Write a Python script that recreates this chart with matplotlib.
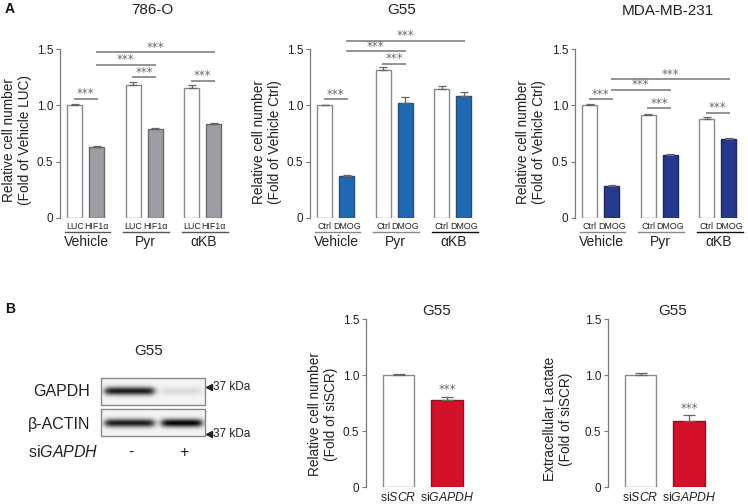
import numpy as np
import matplotlib
matplotlib.use('Agg')
import matplotlib.pyplot as plt
from matplotlib.patches import Rectangle

plt.rcParams['font.family'] = ['Liberation Sans', 'DejaVu Sans']
plt.rcParams['mathtext.fontset'] = 'custom'
plt.rcParams['mathtext.rm'] = 'Liberation Sans'
plt.rcParams['mathtext.it'] = 'Liberation Sans:italic'

# ---------------- data ----------------
groups = ['Vehicle', 'Pyr', 'αKB']
rcc_conditions = ['LUC', 'HIF1α']
dmog_conditions = ['Ctrl', 'DMOG']

rcc_values = [1.00, 0.63, 1.18, 0.79, 1.15, 0.83]
rcc_errors = [0.01, 0.012, 0.03, 0.012, 0.03, 0.015]
g55_values = [1.00, 0.37, 1.31, 1.02, 1.145, 1.085]
g55_errors = [0.006, 0.015, 0.03, 0.05, 0.03, 0.03]
mda_values = [1.00, 0.28, 0.915, 0.56, 0.88, 0.70]
mda_errors = [0.015, 0.01, 0.012, 0.008, 0.015, 0.01]

# significance brackets: (bar i, bar j, height)
rcc_sig = [(0, 1, 1.06), (2, 3, 1.25), (1, 3, 1.36), (1, 5, 1.47), (4, 5, 1.22)]
g55_sig = [(0, 1, 1.055), (2, 3, 1.37), (1, 3, 1.48), (1, 5, 1.575)]
mda_sig = [(0, 1, 1.055), (1, 3, 1.14), (1, 5, 1.23), (2, 3, 0.975), (4, 5, 0.935)]

si_labels = ['si$\\it{SCR}$', 'si$\\it{GAPDH}$']
cell_values = [1.00, 0.78]
cell_errors = [0.012, 0.025]
lactate_values = [1.00, 0.585]
lactate_errors = [0.015, 0.06]

blot_rows = ['GAPDH', 'β-ACTIN']
blot_lanes = ['-', '+']
gapdh_band = [0.85, 0.10]
actin_band = [0.85, 0.95]

# ---------------- figure ----------------
W, H = 748, 504
fig = plt.figure(figsize=(W / 100, H / 100), dpi=100)
ov = fig.add_axes([0, 0, 1, 1])
ov.set_xlim(0, W)
ov.set_ylim(H, 0)
ov.axis('off')

TXT = '#222222'
STAR = dict(fontsize=8.5, color='#6a6a6a', family='DejaVu Sans')


def px_axes(x0, x1, ytop, ybot):
    return fig.add_axes([x0 / W, 1 - ybot / H, (x1 - x0) / W, (ybot - ytop) / H])


def style(ax):
    for s in ['top', 'right', 'bottom']:
        ax.spines[s].set_visible(False)
    ax.spines['left'].set_color('#7a7a7a')
    ax.spines['left'].set_linewidth(0.9)
    ax.set_ylim(0, 1.5)
    ax.set_yticks([0, 0.5, 1.0, 1.5])
    ax.set_yticklabels(['0', '0.5', '1.0', '1.5'])
    ax.tick_params(axis='y', length=3, width=0.8, color='#7a7a7a', labelsize=8.5,
                   labelcolor=TXT, pad=2)
    ax.set_xticks([])
    ax.patch.set_alpha(0)


pos = [0, 1, 2.65, 3.65, 5.32, 6.32]
bw = 0.68


def top_panel(x0, values, errors, conds, fill, edge, sig, ul_color):
    ax = px_axes(x0, x0 + 168, 49, 218)
    style(ax)
    ax.set_xlim(-0.67, 6.96)
    fcs = ['white', fill] * 3
    ecs = ['#8a8a8a', edge] * 3
    ax.bar(pos, values, width=bw, color=fcs, edgecolor=ecs, linewidth=1.0, zorder=2)
    ax.errorbar(pos, values, yerr=[np.zeros(6), errors], fmt='none', ecolor='#666666',
                elinewidth=0.9, capsize=3, capthick=0.9, zorder=3)
    for (i, j, h) in sig:
        ax.plot([pos[i] - 0.05, pos[j] + 0.05], [h, h], color='#808080', lw=1.2,
                clip_on=False, solid_capstyle='butt')
        ax.text((pos[i] + pos[j]) / 2, h + 0.045, '***', ha='center', va='center',
                clip_on=False, **STAR)
    for g in range(3):
        for k in range(2):
            ax.text(pos[2 * g + k], -0.072, conds[k], ha='center', va='center',
                    fontsize=6.4, color=TXT, clip_on=False)
        xa, xb = pos[2 * g] - 0.45, pos[2 * g + 1] + 0.62
        ax.plot([xa, xb], [-0.125, -0.125], color=ul_color[g], lw=1.0, clip_on=False)
        ax.text((pos[2 * g] + pos[2 * g + 1]) / 2 + 0.05, -0.215, groups[g], ha='center',
                va='center', fontsize=10, color=TXT, clip_on=False)
    return ax


top_panel(60, rcc_values, rcc_errors, rcc_conditions, '#9d9ea3', '#6a6a6e', rcc_sig,
          ['#555555', '#555555', '#555555'])
top_panel(310, g55_values, g55_errors, dmog_conditions, '#1f68b2', '#2d4c7c', g55_sig,
          ['#888888', '#888888', '#111111'])
top_panel(575, mda_values, mda_errors, dmog_conditions, '#253a8c', '#1b2664', mda_sig,
          ['#888888', '#888888', '#111111'])


def bottom_panel(x0, values, errors, fill, edge, star_y):
    ax = px_axes(x0, x0 + 114, 319, 487)
    style(ax)
    ax.set_xlim(-0.67, 1.68)
    ax.bar([0, 1], values, width=0.64, color=['white', fill], edgecolor=['#8a8a8a', edge],
           linewidth=1.0, zorder=2)
    ax.errorbar([0, 1], values, yerr=[np.zeros(2), errors], fmt='none', ecolor='#666666',
                elinewidth=0.9, capsize=4, capthick=0.9, zorder=3)
    ax.text(1, star_y, '***', ha='center', va='center', **STAR)
    for k in range(2):
        ax.text(k, -0.09, si_labels[k], ha='center', va='center', fontsize=8.8,
                color=TXT, clip_on=False)
    return ax


bottom_panel(366, cell_values, cell_errors, '#d3112a', '#8a1424', 0.87)
bottom_panel(608, lactate_values, lactate_errors, '#d3112a', '#8a1424', 0.70)

# ---------------- titles / labels ----------------
ov.text(5, 9, 'A', fontsize=10, fontweight='bold', ha='left', va='center', color='#111111')
ov.text(5, 309, 'B', fontsize=10, fontweight='bold', ha='left', va='center', color='#111111')
TT = dict(fontsize=11, ha='center', va='center', color=TXT)
ov.text(152, 10, '786-O', **TT)
ov.text(402, 10, 'G55', **TT)
ov.text(668, 11, 'MDA-MB-231', **TT)
ov.text(437, 311, 'G55', **TT)
ov.text(673, 311, 'G55', **TT)
ov.text(149, 351, 'G55', **TT)

ylab_kw = dict(rotation=90, ha='center', va='center', fontsize=9.8, color=TXT,
               multialignment='center', linespacing=1.15)
ov.text(17, 140, 'Relative cell number\n(Fold of Vehicle LUC)', **ylab_kw)
ov.text(267, 142, 'Relative cell number\n(Fold of Vehicle Ctrl)', **ylab_kw)
ov.text(531, 142, 'Relative cell number\n(Fold of Vehicle Ctrl)', **ylab_kw)
ov.text(323, 414, 'Relative cell number\n(Fold of siSCR)', **ylab_kw)
ov.text(558, 419, 'Extracellular Lactate\n(Fold of siSCR)', **ylab_kw)

# ---------------- western blot ----------------
bx0, bx1 = 101, 205
boxes = [(378, 405, gapdh_band, 391), (409, 436, actin_band, 423)]
lane_spans = [(105, 154), (162, 202)]
for (yt, yb, strengths, yc) in boxes:
    xs = np.linspace(bx0, bx1, 260)
    ys = np.linspace(yt, yb, 70)
    X, Y = np.meshgrid(xs, ys)
    img = np.full(X.shape, 0.04)
    for (la, lb), s in zip(lane_spans, strengths):
        xwin = 1 / (1 + np.exp(-(X - la) / 2.0)) * 1 / (1 + np.exp((X - lb) / 2.0))
        yprof = np.exp(-((Y - yc) / 4.2) ** 2)
        img += s * xwin * yprof
    ov.imshow(np.clip(img, 0, 1), cmap='gray_r', vmin=0, vmax=1, extent=[bx0, bx1, yb, yt],
              aspect='auto', interpolation='bilinear', zorder=1)
    ov.add_patch(Rectangle((bx0, yt), bx1 - bx0, yb - yt, fill=False, edgecolor='#888888',
                           lw=1.0, zorder=2))
ov.set_xlim(0, W)
ov.set_ylim(H, 0)
BL = dict(fontsize=11.5, color=TXT, va='center')
ov.text(90, 392, blot_rows[0], ha='right', **BL)
ov.text(90, 424, blot_rows[1], ha='right', **BL)
ov.text(28, 452, 'si$\\it{GAPDH}$', ha='left', **BL)
ov.text(131, 452, blot_lanes[0], ha='center', **BL)
ov.text(184, 452, blot_lanes[1], ha='center', **BL)
for yk in [387, 434]:
    ov.plot([209], [yk], marker='<', color='#222222', markersize=5, linestyle='none')
    ov.text(213, yk, '37 kDa', ha='left', va='center', fontsize=8.5, color=TXT)

fig.savefig('out.png', dpi=100)
